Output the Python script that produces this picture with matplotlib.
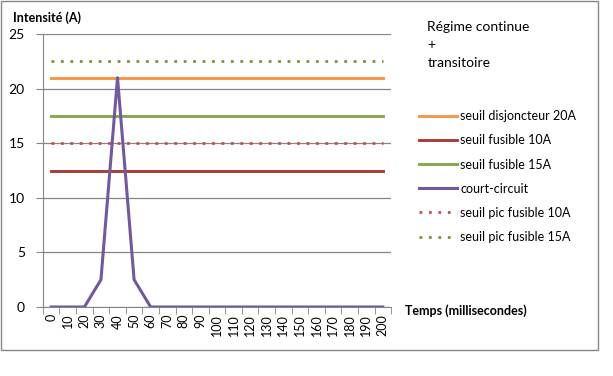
import numpy as np
import matplotlib
matplotlib.use("Agg")
import matplotlib.pyplot as plt
from matplotlib.patches import Rectangle

plt.rcParams['font.family'] = ['Lato', 'DejaVu Sans']

# data
temps = [0, 10, 20, 30, 40, 50, 60, 70, 80, 90, 100,
         110, 120, 130, 140, 150, 160, 170, 180, 190, 200]
court_circuit = [0, 0, 0, 2.5, 21, 2.5, 0, 0, 0, 0, 0,
                 0, 0, 0, 0, 0, 0, 0, 0, 0, 0]
seuil_disjoncteur_20A = 21
seuil_fusible_10A = 12.5
seuil_fusible_15A = 17.5
seuil_pic_fusible_10A = 15
seuil_pic_fusible_15A = 22.5

fig = plt.figure(figsize=(6.13, 3.76), dpi=100)
ax = fig.add_axes([0.070, 0.1835, 0.568, 0.726])

x = np.arange(len(temps))
n = len(temps)
grey = "#868686"

ax.plot(x, [seuil_disjoncteur_20A] * n, color="#F79646", lw=2.1,
        label="seuil disjoncteur 20A", zorder=3)
ax.plot(x, [seuil_fusible_10A] * n, color="#AC3B36", lw=2.1,
        label="seuil fusible 10A", zorder=3)
ax.plot(x, [seuil_fusible_15A] * n, color="#86A94B", lw=2.1,
        label="seuil fusible 15A", zorder=3)
ax.plot(x, court_circuit, color="#7059A0", lw=2.2,
        label="court-circuit", zorder=5)
ax.plot(x, [seuil_pic_fusible_10A] * n, color="#C0504D", lw=2,
        linestyle=(0, (1, 2.4)), label="seuil pic fusible 10A", zorder=4)
ax.plot(x, [seuil_pic_fusible_15A] * n, color="#77933C", lw=2,
        linestyle=(0, (1, 2.4)), label="seuil pic fusible 15A", zorder=4)

ax.set_xlim(-0.5, n - 0.5)
ax.set_ylim(0, 25)
ax.set_yticks([0, 5, 10, 15, 20, 25])
ax.set_xticks(x)
ax.set_xticklabels([str(t) for t in temps], rotation=90, fontsize=9)
ax.set_xticks(np.arange(-0.5, n), minor=True)
ax.tick_params(axis="x", which="major", length=0, pad=5)
ax.tick_params(axis="x", which="minor", length=5, color=grey)
ax.tick_params(axis="y", length=5, color=grey, labelsize=10, pad=8)
ax.grid(axis="y", color=grey, lw=0.9)
ax.set_axisbelow(True)

for side in ["top", "right"]:
    ax.spines[side].set_visible(False)
for side in ["left", "bottom"]:
    ax.spines[side].set_color(grey)

fig.text(0.021, 0.953, "Intensité (A)", fontsize=9, fontweight="bold",
         va="center", ha="left")
fig.text(0.661, 0.175, "Temps (millisecondes)", fontsize=9,
         fontweight="bold", va="center", ha="left")
fig.text(0.697, 0.945, "Régime continue\n+\ntransitoire", fontsize=10,
         va="top", ha="left", linespacing=1.6)

fig.legend(loc="upper left", bbox_to_anchor=(0.676, 0.72), frameon=False,
           fontsize=9, handlelength=3.0, handletextpad=0.25,
           labelspacing=0.97, borderaxespad=0)

fig.patches.append(Rectangle((0.0015, 0.07), 0.974, 0.927,
                             transform=fig.transFigure, fill=False,
                             edgecolor=grey, lw=1))

fig.savefig("out.png", dpi=100)
